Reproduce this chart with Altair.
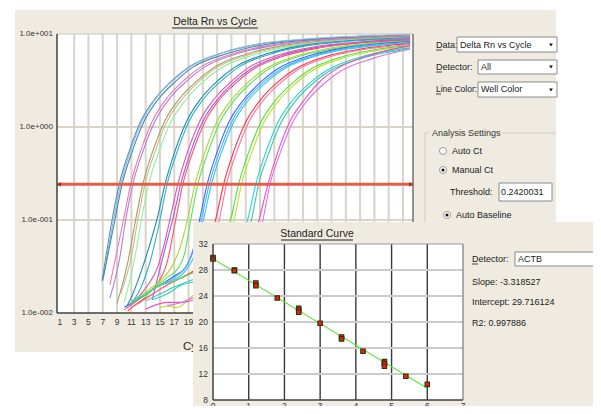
import altair as alt
import pandas as pd

FONT = "Liberation Sans, Arial, sans-serif"

# ---------------- data: amplification plot (Delta Rn vs Cycle) ----------------
CURVE_COLORS = [
    "#5B8EC2", "#8DB6DC", "#3E8CA6", "#E77AB4", "#B47CD2", "#A39E5E", "#C9B98A",
    "#8EF09E", "#1B8DAA", "#2FB0CC", "#E052B4", "#A855E2", "#FF5068", "#A6D832",
    "#5EE05E", "#2F6CFF", "#55AAFF", "#2ACCE0", "#FF3048", "#FF72A6", "#4CE044",
    "#C2E024", "#22D2D2", "#3CC8A8", "#EE4EC6", "#D873E4",
]
CURVE_CYCLES = [
    [6.9, 8.3, 9.3, 10.7, 12.4, 14.5, 16.8, 19.1, 23.8, 28.5, 36, 43, 50],
    [7.1, 8.5, 9.5, 10.9, 12.6, 14.7, 17.0, 19.3, 24.0, 28.7, 36, 43, 50],
    [7.0, 8.7, 9.7, 11.1, 12.8, 14.9, 17.2, 19.5, 24.2, 28.9, 36, 43, 50],
    [8.0, 9.9, 10.9, 12.3, 14.0, 16.1, 18.4, 20.7, 25.4, 30.1, 37, 44, 50],
    [8.0, 9.4, 10.2, 11.2, 12.6, 14.3, 16.4, 18.7, 21.0, 25.7, 30.4, 37, 44, 50],
    [9.0, 10.5, 11.6, 12.6, 14.0, 15.7, 17.8, 20.1, 22.4, 27.1, 31.8, 38, 44, 50],
    [9.5, 11.0, 11.9, 12.9, 14.3, 16.0, 18.1, 20.4, 22.7, 27.4, 32.1, 38, 44, 50],
    [10.0, 11.5, 12.4, 13.4, 14.8, 16.5, 18.6, 20.9, 23.2, 27.9, 32.6, 39, 45, 50],
    [10.3, 11.2, 12.5, 13.6, 14.7, 15.7, 17.1, 18.8, 20.9, 23.2, 25.5, 30.2, 34.9, 41, 50],
    [11.0, 12.5, 13.8, 15.0, 16.0, 17.4, 19.1, 21.2, 23.5, 25.8, 30.5, 35.2, 41, 50],
    [10.5, 12.0, 13.5, 14.6, 15.6, 16.5, 17.5, 18.9, 20.6, 22.7, 25.0, 27.3, 32.0, 36.7, 43, 50],
    [13.9, 15.0, 16.0, 16.9, 17.9, 19.3, 21.0, 23.1, 25.4, 27.7, 32.4, 37.1, 43, 50],
    [10.0, 11.5, 13.0, 14.5, 16.0, 17.2, 18.2, 19.6, 21.3, 23.4, 25.7, 28.0, 32.7, 37.4, 43, 50],
    [11.0, 13.0, 15.0, 16.5, 17.8, 18.9, 19.9, 21.3, 23.0, 25.1, 27.4, 29.7, 34.4, 39.1, 44, 50],
    [12.0, 14.0, 16.0, 17.5, 18.5, 19.3, 20.3, 21.7, 23.4, 25.5, 27.8, 30.1, 34.8, 39.5, 44, 50],
    [10.0, 12.0, 14.0, 15.5, 17.0, 18.6, 19.7, 20.6, 21.6, 23.0, 24.7, 26.8, 29.1, 31.4, 36.1, 40.8, 45, 50],
    [11.0, 13.0, 15.0, 17.0, 19.0, 20.0, 20.9, 21.9, 23.3, 25.0, 27.1, 29.4, 31.7, 36.4, 41.1, 45, 50],
    [12.5, 14.5, 16.5, 18.5, 20.2, 21.2, 22.2, 23.6, 25.3, 27.4, 29.7, 32.0, 36.7, 41.4, 45, 50],
    [10.5, 12.0, 14.0, 16.0, 18.0, 20.0, 21.5, 22.9, 23.9, 25.3, 27.0, 29.1, 31.4, 33.7, 38.4, 43.1, 50],
    [11.5, 13.5, 15.5, 17.5, 19.5, 21.5, 23.3, 24.3, 25.7, 27.4, 29.5, 31.8, 34.1, 38.8, 43.5, 50],
    [11.0, 13.0, 15.0, 17.0, 19.0, 21.0, 23.0, 25.0, 26.0, 27.4, 29.1, 31.2, 33.5, 35.8, 40.5, 45.2, 50],
    [15.0, 16.0, 17.5, 19.0, 21.0, 23.0, 25.4, 26.4, 27.8, 29.5, 31.6, 33.9, 36.2, 40.9, 45.6, 50],
    [14.0, 16.0, 18.0, 20.0, 23.0, 26.0, 27.4, 28.4, 29.8, 31.5, 33.6, 35.9, 38.2, 42.9, 50],
    [13.0, 15.0, 17.0, 19.0, 22.0, 25.0, 27.8, 28.8, 30.2, 31.9, 34.0, 36.3, 38.6, 43.3, 50],
    [13.0, 16.0, 18.0, 20.0, 24.0, 27.0, 29.0, 30.1, 31.5, 33.2, 35.3, 37.6, 39.9, 44.6, 50],
    [16.0, 18.0, 20.0, 23.0, 26.0, 28.0, 29.4, 30.4, 31.8, 33.5, 35.6, 37.9, 40.2, 44.9, 50],
]
CURVE_VALUES = [
    [0.022, 0.10, 0.242, 0.55, 1.19, 2.1, 3.2, 4.45, 6.3, 7.7, 8.8, 9.4, 9.8],
    [0.024, 0.10, 0.242, 0.56, 1.2, 2.15, 3.25, 4.5, 6.35, 7.8, 8.9, 9.5, 9.9],
    [0.0226, 0.10, 0.242, 0.54, 1.16, 2.05, 3.1, 4.35, 6.1, 7.5, 8.6, 9.2, 9.6],
    [0.02, 0.10, 0.242, 0.55, 1.18, 2.1, 3.2, 4.4, 6.2, 7.5, 8.6, 9.2, 9.6],
    [0.0145, 0.04, 0.10, 0.242, 0.54, 1.15, 2.05, 3.1, 4.3, 6.1, 7.4, 8.5, 9.1, 9.5],
    [0.0127, 0.035, 0.10, 0.242, 0.55, 1.17, 2.05, 3.1, 4.3, 6.1, 7.4, 8.4, 9.0, 9.4],
    [0.016, 0.04, 0.10, 0.242, 0.54, 1.15, 2.0, 3.05, 4.25, 6.0, 7.3, 8.3, 8.9, 9.3],
    [0.013, 0.04, 0.10, 0.242, 0.53, 1.12, 1.95, 3.0, 4.15, 5.9, 7.2, 8.2, 8.8, 9.1],
    [0.0115, 0.016, 0.03, 0.055, 0.11, 0.242, 0.55, 1.18, 2.1, 3.2, 4.4, 6.2, 7.5, 8.4, 9.1],
    [0.0125, 0.02, 0.04, 0.1, 0.242, 0.54, 1.16, 2.05, 3.1, 4.3, 6.1, 7.4, 8.3, 8.9],
    [0.012, 0.015, 0.021, 0.03, 0.055, 0.11, 0.242, 0.55, 1.17, 2.05, 3.1, 4.3, 6.1, 7.3, 8.2, 8.8],
    [0.0138, 0.03, 0.06, 0.11, 0.242, 0.54, 1.15, 2.0, 3.05, 4.2, 6.0, 7.2, 8.1, 8.6],
    [0.0108, 0.013, 0.016, 0.02, 0.035, 0.10, 0.242, 0.54, 1.14, 2.0, 3.0, 4.15, 5.9, 7.1, 8.0, 8.5],
    [0.013, 0.017, 0.022, 0.03, 0.05, 0.105, 0.242, 0.54, 1.15, 2.0, 3.05, 4.2, 5.9, 7.1, 7.9, 8.4],
    [0.0125, 0.018, 0.024, 0.03, 0.045, 0.1, 0.242, 0.53, 1.13, 1.98, 3.0, 4.15, 5.85, 7.0, 7.8, 8.3],
    [0.0115, 0.014, 0.018, 0.021, 0.025, 0.031, 0.05, 0.105, 0.242, 0.54, 1.15, 2.0, 3.05, 4.2, 5.9, 7.1, 7.8, 8.3],
    [0.0135, 0.016, 0.02, 0.024, 0.035, 0.055, 0.11, 0.242, 0.53, 1.12, 1.98, 3.0, 4.1, 5.8, 7.0, 7.6, 8.1],
    [0.015, 0.019, 0.022, 0.028, 0.05, 0.11, 0.242, 0.53, 1.12, 1.95, 2.95, 4.05, 5.75, 6.9, 7.5, 8.0],
    [0.0105, 0.013, 0.016, 0.02, 0.024, 0.03, 0.045, 0.11, 0.242, 0.54, 1.13, 1.98, 3.0, 4.1, 5.8, 6.9, 7.9],
    [0.012, 0.015, 0.019, 0.023, 0.027, 0.035, 0.1, 0.242, 0.53, 1.12, 1.95, 2.95, 4.05, 5.7, 6.8, 7.7],
    [0.0125, 0.016, 0.02, 0.022, 0.026, 0.03, 0.045, 0.11, 0.242, 0.53, 1.12, 1.95, 2.95, 4.05, 5.7, 6.8, 7.5],
    [0.0115, 0.0118, 0.0115, 0.014, 0.02, 0.03, 0.1, 0.242, 0.52, 1.1, 1.92, 2.9, 4.0, 5.6, 6.7, 7.3],
    [0.014, 0.016, 0.02, 0.022, 0.028, 0.05, 0.11, 0.242, 0.53, 1.12, 1.95, 2.95, 4.0, 5.6, 7.1],
    [0.0135, 0.016, 0.019, 0.022, 0.026, 0.035, 0.1, 0.242, 0.52, 1.1, 1.92, 2.9, 3.95, 5.5, 6.9],
    [0.011, 0.013, 0.013, 0.014, 0.02, 0.035, 0.11, 0.242, 0.54, 1.15, 2.0, 3.2, 4.3, 6.0, 7.5],
    [0.012, 0.013, 0.015, 0.018, 0.025, 0.04, 0.1, 0.242, 0.52, 1.1, 1.92, 2.9, 3.95, 5.5, 6.9],
]
THRESHOLD = 0.2420031
AMP_X_TICKS = [1, 3, 5, 7, 9, 11, 13, 15, 17, 19, 21, 23, 25, 27, 29, 31, 33, 35, 37, 39, 41, 43, 45, 47, 49]
AMP_X_GRID = [3, 5, 7, 9, 11, 13, 15, 17, 19, 21, 23, 25, 27, 29, 31, 33, 35, 37, 39, 41, 43, 45, 47, 49]
AMP_Y_TICKS = [10, 1, 0.1, 0.01]
AMP_Y_LABELS = ["1.0e+001", "1.0e+000", "1.0e-001", "1.0e-002"]
AMP_Y_GRID = [1, 0.1]

# ---------------- data: standard curve ----------------
STD_LOGQ = [0, 0, 0.6, 0.6, 1.2, 1.2, 1.8, 2.4, 2.4, 2.4, 3.0, 3.6, 3.6, 4.2, 4.8, 4.8, 4.8, 5.4, 6.0]
STD_CT = [29.9, 29.7, 28.0, 27.9, 26.0, 25.6, 23.7, 22.1, 21.8, 21.5, 19.8, 17.7, 17.4, 15.5, 13.9, 13.6, 13.2, 11.65, 10.4]
FIT_LOGQ = [0, 6]
FIT_CT = [29.72, 9.80]
STD_X_TICKS = [0, 1, 2, 3, 4, 5, 6, 7]
STD_X_GRID = [1, 2, 3, 4, 5, 6]
STD_Y_TICKS = [32, 28, 24, 20, 16, 12, 8]
STD_Y_GRID = [12, 16, 20, 24, 28]

# ---------------- layout helpers (page pixel -> chart pixel) ----------------
W, H = 585, 398
BEIGE = "#EFEBE0"
UI = 9.0
ONE = pd.DataFrame({"k": [0]})


def px(x):
    return x - 8


def py(y):
    return y - 8


V = alt.value


def rect(x1, y1, x2, y2, fill, stroke=None, sw=1.0):
    m = dict(fill=fill)
    if stroke is not None:
        m.update(stroke=stroke, strokeWidth=sw)
    else:
        m.update(strokeWidth=0)
    return alt.Chart(ONE).mark_rect(**m).encode(
        x=V(px(x1)), x2=V(px(x2)), y=V(py(y1)), y2=V(py(y2)))


def seg(x1, y1, x2, y2, color, sw=1.0):
    return alt.Chart(ONE).mark_rule(color=color, strokeWidth=sw).encode(
        x=V(px(x1)), x2=V(px(x2)), y=V(py(y1)), y2=V(py(y2)))


def label(s, x, y, size=UI, align="left", color="#1A1A1A", baseline="middle"):
    return alt.Chart(ONE).mark_text(font=FONT, fontSize=size, align=align,
                                    baseline=baseline, color=color).encode(
        x=V(px(x)), y=V(py(y)), text=V(s))


def dot(x, y, shape, size, fill, stroke=None, sw=1.0):
    m = dict(shape=shape, size=size, filled=True, fill=fill, opacity=1)
    if stroke is not None:
        m.update(stroke=stroke, strokeWidth=sw)
    else:
        m.update(strokeWidth=0)
    return alt.Chart(ONE).mark_point(**m).encode(x=V(px(x)), y=V(py(y)))


# ---------------- amplification plot ----------------
rows = []
well_ids = []
for i, (cs, vs) in enumerate(zip(CURVE_CYCLES, CURVE_VALUES)):
    wid = f"w{i:02d}"
    well_ids.append(wid)
    for c, v in zip(cs, vs):
        rows.append({"well": wid, "cycle": c, "drn": v})
curve_df = pd.DataFrame(rows)

ax = alt.Scale(domain=[0.6, 50.4], range=[px(57), px(413)], nice=False, zero=False)
ay = alt.Scale(type="log", domain=[0.01, 10], range=[py(313), py(34)], nice=False)

amp_vgrid = alt.Chart(pd.DataFrame({"cycle": AMP_X_GRID})).mark_rule(
    color="#D8D4CA", strokeWidth=2).encode(
    x=alt.X("cycle:Q", scale=ax, axis=None), y=V(py(34)), y2=V(py(313)))
amp_hgrid = alt.Chart(pd.DataFrame({"drn": AMP_Y_GRID})).mark_rule(
    color="#D8D4CA", strokeWidth=2).encode(
    y=alt.Y("drn:Q", scale=ay, axis=None), x=V(px(57)), x2=V(px(413)))
amp_curves = alt.Chart(curve_df).mark_line(interpolate="monotone", strokeWidth=1.1).encode(
    x=alt.X("cycle:Q", scale=ax, axis=None),
    y=alt.Y("drn:Q", scale=ay, axis=None),
    color=alt.Color("well:N", scale=alt.Scale(domain=well_ids, range=CURVE_COLORS), legend=None),
    detail="well:N",
    order="cycle:Q",
)
thr_df = pd.DataFrame({"drn": [THRESHOLD]})
amp_thr = alt.Chart(thr_df).mark_rule(color="#E35D4D", strokeWidth=3).encode(
    y=alt.Y("drn:Q", scale=ay, axis=None), x=V(px(57)), x2=V(px(413)))
amp_tip_l = alt.Chart(thr_df).mark_point(shape="triangle-left", size=22, filled=True,
                                         color="#B03020", opacity=1).encode(
    y=alt.Y("drn:Q", scale=ay, axis=None), x=V(px(59)))
amp_tip_r = alt.Chart(thr_df).mark_point(shape="triangle-right", size=22, filled=True,
                                         color="#B03020", opacity=1).encode(
    y=alt.Y("drn:Q", scale=ay, axis=None), x=V(px(411)))
amp_xlab = alt.Chart(pd.DataFrame({"cycle": AMP_X_TICKS})).mark_text(
    font=FONT, fontSize=8.5, color="#333333", baseline="middle").encode(
    x=alt.X("cycle:Q", scale=ax, axis=None), y=V(py(322)), text="cycle:Q")
amp_ylab = alt.Chart(pd.DataFrame({"drn": AMP_Y_TICKS, "lab": AMP_Y_LABELS})).mark_text(
    font=FONT, fontSize=8, color="#333333", align="right", baseline="middle").encode(
    y=alt.Y("drn:Q", scale=ay, axis=None), x=V(px(53)), text="lab:N")

amp = alt.layer(amp_vgrid, amp_hgrid, amp_curves, amp_thr, amp_tip_l, amp_tip_r,
                amp_xlab, amp_ylab)

# ---------------- standard curve ----------------
S_TOP, S_BOT = 244, 400
sx = alt.Scale(domain=[0, 7], range=[px(213), px(463)], nice=False, zero=False)
sy = alt.Scale(domain=[8, 32], range=[py(S_BOT), py(S_TOP)], nice=False, zero=False)

std_vgrid = alt.Chart(pd.DataFrame({"q": STD_X_GRID})).mark_rule(
    color="#3A3A3A", strokeWidth=1.4).encode(
    x=alt.X("q:Q", scale=sx, axis=None), y=V(py(S_TOP)), y2=V(py(S_BOT)))
std_hgrid = alt.Chart(pd.DataFrame({"ct": STD_Y_GRID})).mark_rule(
    color="#CBCBCB", strokeWidth=2).encode(
    y=alt.Y("ct:Q", scale=sy, axis=None), x=V(px(213)), x2=V(px(463)))
std_fit = alt.Chart(pd.DataFrame({"q": FIT_LOGQ, "ct": FIT_CT})).mark_line(
    color="#5EE63A", strokeWidth=1.1).encode(
    x=alt.X("q:Q", scale=sx, axis=None), y=alt.Y("ct:Q", scale=sy, axis=None))
std_pts = alt.Chart(pd.DataFrame({"q": STD_LOGQ, "ct": STD_CT})).mark_point(
    shape="square", size=20, filled=True, fill="#E8200A", stroke="#2E3410",
    strokeWidth=1.1, opacity=1).encode(
    x=alt.X("q:Q", scale=sx, axis=None), y=alt.Y("ct:Q", scale=sy, axis=None))
std_ylab = alt.Chart(pd.DataFrame({"ct": STD_Y_TICKS})).mark_text(
    font=FONT, fontSize=8.5, color="#333333", align="right", baseline="middle").encode(
    y=alt.Y("ct:Q", scale=sy, axis=None), x=V(px(208)), text="ct:Q")
std_xlab = alt.Chart(pd.DataFrame({"q": STD_X_TICKS})).mark_text(
    font=FONT, fontSize=8.5, color="#333333", baseline="top").encode(
    x=alt.X("q:Q", scale=sx, axis=None), y=V(py(S_BOT + 2)), text="q:Q")

std = alt.layer(std_vgrid, std_hgrid, std_fit, std_pts, std_ylab, std_xlab)

# ---------------- assemble panels ----------------
top_panel = [
    rect(15, 10, 556, 352, BEIGE),
    rect(57, 34, 413, 313, "white"),
    amp,
    seg(57, 34, 413, 34, "#C4C4C4", 1),
    seg(413, 34, 413, 313, "#505050", 1.2),
    seg(57, 34, 57, 313, "#404040", 1.5),
    seg(57, 313, 413, 313, "#404040", 1.5),
    label("Delta Rn vs Cycle", 215, 22, 10.5, "center", "#222222"),
    seg(172, 28, 258, 28, "#222222", 1),
    label("Cycle", 183, 347, 11.5, "left", "#222222"),
    # data selector controls
    label("Data:", 436, 45),
    seg(436, 50, 442, 50, "#1A1A1A", 0.8),
    rect(457, 37, 557, 52, "white", "#8A8A8A", 1),
    label("Delta Rn vs Cycle", 460, 45),
    dot(551, 45, "triangle-down", 14, "#111111"),
    label("Detector:", 436, 67),
    seg(436, 72, 442, 72, "#1A1A1A", 0.8),
    rect(478, 60, 557, 74, "white", "#8A8A8A", 1),
    label("All", 481, 67),
    dot(551, 67, "triangle-down", 14, "#111111"),
    label("Line Color:", 436, 89, 8.5),
    seg(436, 94, 441, 94, "#1A1A1A", 0.8),
    rect(478, 82, 557, 97, "white", "#8A8A8A", 1),
    label("Well Color", 481, 89),
    dot(551, 90, "triangle-down", 14, "#111111"),
    # analysis settings group
    seg(425, 133, 429, 133, "#CFCBBF", 1),
    seg(502, 133, 556, 133, "#CFCBBF", 1),
    seg(425, 133, 425, 222, "#CFCBBF", 1),
    label("Analysis Settings", 432, 133, color="#333333"),
    dot(443, 151, "circle", 50, "white", "#9A9A9A", 1),
    label("Auto Ct", 452, 151),
    dot(443, 170, "circle", 50, "white", "#9A9A9A", 1),
    dot(443, 170, "circle", 10, "#111111"),
    label("Manual Ct", 452, 170),
    label("Threshold:", 450, 192),
    rect(499, 183, 552, 201, "white", "#8A8A8A", 1),
    label("0.2420031", 501, 192),
    dot(447, 215, "circle", 50, "white", "#9A9A9A", 1),
    dot(447, 215, "circle", 10, "#111111"),
    label("Auto Baseline", 456, 215),
]

bottom_panel = [
    rect(193, 222, 601, 414, BEIGE),
    rect(213, S_TOP, 463, S_BOT, "white"),
    std,
    seg(213, S_TOP, 463, S_TOP, "#9A9A9A", 1.2),
    seg(463, S_TOP, 463, S_BOT, "#7A7A7A", 1.2),
    seg(213, S_TOP, 213, S_BOT, "#404040", 1.5),
    seg(213, S_BOT, 463, S_BOT, "#404040", 1.5),
    label("Standard Curve", 317, 234, 10.5, "center", "#222222"),
    seg(281, 240, 353, 240, "#222222", 1),
    label("Detector:", 472, 259),
    seg(472, 264, 478, 264, "#1A1A1A", 0.8),
    rect(515, 252, 601, 266, "white", "#8A8A8A", 1),
    label("ACTB", 518, 259),
    label("Slope: -3.318527", 472, 282),
    label("Intercept: 29.716124", 472, 302),
    label("R2: 0.997886", 472, 323),
]

chart = alt.layer(*top_panel, *bottom_panel).resolve_scale(
    x="independent", y="independent", color="independent"
).properties(
    width=W, height=H, padding=0, background="white",
    autosize=alt.AutoSizeParams(type="none"),
).configure_view(strokeWidth=0)

chart.save("out.html", embed_options={"renderer": "svg", "actions": False})
